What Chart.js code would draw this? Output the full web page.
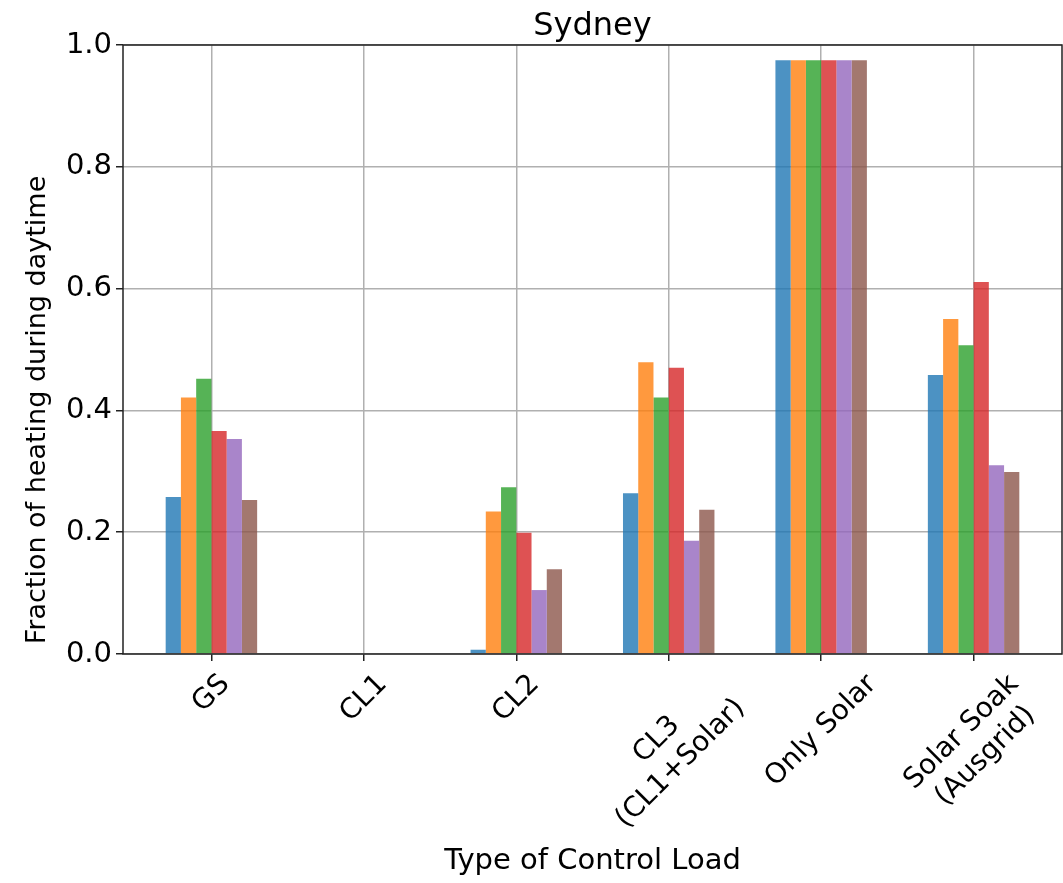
<!DOCTYPE html>
<html>
<head>
<meta charset="utf-8">
<title>Sydney</title>
<script src="https://cdn.jsdelivr.net/npm/chart.js@4/dist/chart.umd.min.js"></script>
<style>
  html, body { margin: 0; padding: 0; background: #fff; }
  canvas { display: block; }
</style>
</head>
<body>
<canvas id="chart" width="1063" height="883"></canvas>
<script>
// categories (x tick labels, one array entry per line)
const categories = [
  ["GS"],
  ["CL1"],
  ["CL2"],
  ["CL3", "(CL1+Solar)"],
  ["Only Solar"],
  ["Solar Soak", "(Ausgrid)"]
];

// one array per bar colour, values per category
const blueVals   = [0.258, 0, 0.007, 0.264, 0.975, 0.458];
const orangeVals = [0.421, 0, 0.234, 0.479, 0.975, 0.550];
const greenVals  = [0.452, 0, 0.274, 0.421, 0.975, 0.507];
const redVals    = [0.366, 0, 0.199, 0.470, 0.975, 0.611];
const purpleVals = [0.353, 0, 0.105, 0.186, 0.975, 0.310];
const brownVals  = [0.253, 0, 0.139, 0.237, 0.975, 0.299];

const yTicks = [0, 0.2, 0.4, 0.6, 0.8, 1.0];

const seriesList = [blueVals, orangeVals, greenVals, redVals, purpleVals, brownVals];
const colors = [
  "rgba(31,119,180,0.8)",
  "rgba(255,127,14,0.8)",
  "rgba(44,160,44,0.8)",
  "rgba(214,39,40,0.8)",
  "rgba(148,103,189,0.8)",
  "rgba(140,86,75,0.8)"
];

const FONT = "'DejaVu Sans', sans-serif";
const TICK_SIZE = 28;

// texts drawn by hand: title over the axes, rotated x tick labels, y label
const textPlugin = {
  id: "texts",
  afterDraw(chart) {
    const ctx = chart.ctx;
    const a = chart.chartArea;
    const xs = chart.scales.x;
    const top = a.bottom + 7 + 7;
    const lh = TICK_SIZE * 1.2;
    ctx.save();
    ctx.fillStyle = "#000";

    // title, centred on the axes like matplotlib
    ctx.font = "32px " + FONT;
    ctx.textAlign = "center";
    ctx.textBaseline = "alphabetic";
    ctx.fillText("Sydney", (a.left + a.right) / 2, 35);

    // x tick labels rotated 45deg, centred on the tick (ha='center')
    ctx.font = TICK_SIZE + "px " + FONT;
    ctx.textBaseline = "middle";
    categories.forEach((lines, i) => {
      const px = xs.getPixelForValue(i);
      const w = Math.max(...lines.map(l => ctx.measureText(l).width));
      const h = lines.length * lh;
      const cy = top + (w + h) * Math.SQRT1_2 / 2;
      ctx.save();
      ctx.translate(px, cy);
      ctx.rotate(-Math.PI / 4);
      lines.forEach((l, k) => {
        ctx.fillText(l, 0, (k - (lines.length - 1) / 2) * lh);
      });
      ctx.restore();
    });

    // y axis label (sits a bit below the axes centre in the original)
    ctx.font = "27px " + FONT;
    ctx.translate(38, 410);
    ctx.rotate(-Math.PI / 2);
    ctx.fillText("Fraction of heating during daytime", 0, 0);
    ctx.restore();
  }
};

// box around the plot area (all four spines)
const framePlugin = {
  id: "frame",
  afterDraw(chart) {
    const a = chart.chartArea;
    const ctx = chart.ctx;
    ctx.save();
    ctx.strokeStyle = "#222";
    ctx.lineWidth = 1.5;
    ctx.strokeRect(a.left, a.top, a.right - a.left, a.bottom - a.top);
    ctx.restore();
  }
};

const datasets = seriesList.map((vals, s) => ({
  data: vals.map((v, i) => ({ x: i, y: v })),
  backgroundColor: colors[s],
  borderWidth: 0,
  categoryPercentage: 0.6,
  barPercentage: 1.0
}));

new Chart(document.getElementById("chart"), {
  type: "bar",
  data: { datasets: datasets },
  plugins: [textPlugin, framePlugin],
  options: {
    responsive: false,
    animation: false,
    devicePixelRatio: 1,
    layout: { padding: { top: 45, right: 1, bottom: 0, left: 0 } },
    plugins: {
      legend: { display: false },
      tooltip: { enabled: false },
      title: { display: false }
    },
    scales: {
      x: {
        type: "linear",
        min: -0.58,
        max: 5.58,
        offset: false,
        z: 1,
        afterBuildTicks: s => { s.ticks = categories.map((c, i) => ({ value: i })); },
        afterFit: s => { s.height = 229; },
        ticks: { display: false },
        grid: {
          offset: false,
          color: "#b0b0b0",
          lineWidth: 1.5,
          drawTicks: true,
          tickLength: 7,
          tickColor: "#222",
          tickWidth: 1.5
        },
        border: { display: false },
        title: {
          display: true,
          text: "Type of Control Load",
          color: "#000",
          font: { family: FONT, size: 29 },
          padding: { top: 4, bottom: 4 }
        }
      },
      y: {
        min: 0,
        max: 1,
        z: 1,
        afterBuildTicks: s => { s.ticks = yTicks.map(v => ({ value: v })); },
        afterFit: s => { s.width = 123; },
        ticks: {
          color: "#000",
          font: { family: FONT, size: 29 },
          padding: 4,
          callback: v => v.toFixed(1)
        },
        grid: {
          color: "#b0b0b0",
          lineWidth: 1.5,
          drawTicks: true,
          tickLength: 7,
          tickColor: "#222",
          tickWidth: 1.5
        },
        border: { display: false }
      }
    }
  }
});
</script>
</body>
</html>
